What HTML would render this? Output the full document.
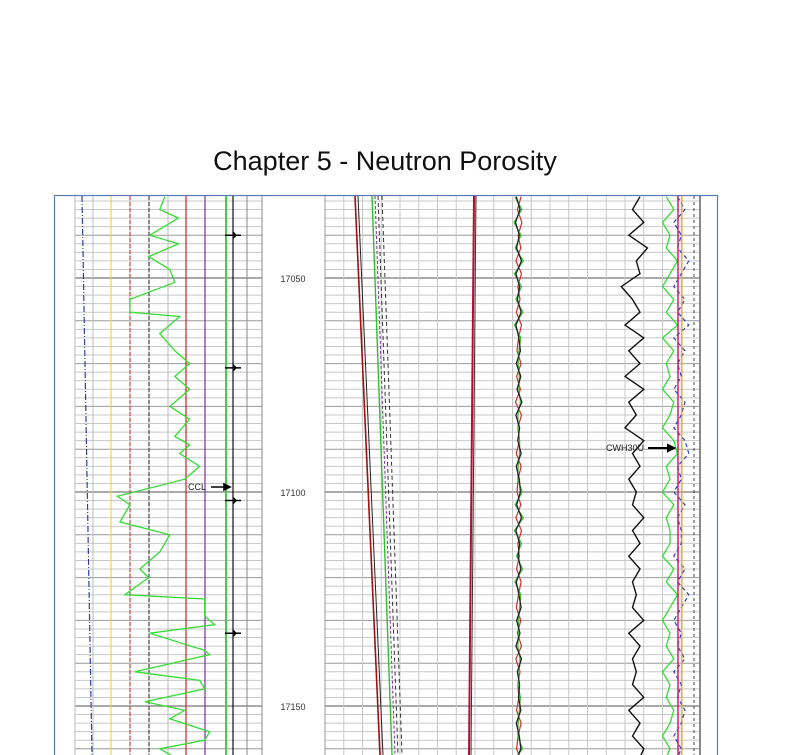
<!DOCTYPE html>
<html><head><meta charset="utf-8">
<style>
html,body{margin:0;padding:0;background:#fff;width:807px;height:755px;overflow:hidden}
#title{position:absolute;left:0;width:770px;top:146px;text-align:center;font-family:"Liberation Sans",sans-serif;font-size:27px;color:#111}
svg{position:absolute;left:0;top:0}
</style></head><body>
<div id="title">Chapter 5 - Neutron Porosity</div>
<svg id="chart" width="807" height="755"></svg>
<script>
const depthTicks=[17050,17100,17150];
const grDepth=[17031,17034,17036,17040,17042,17045,17048,17051,17055,17058,17059,17063,17067,17070,17073,17076,17080,17083,17087,17089,17091,17094,17097,17101,17103,17107,17110,17114,17118,17120,17124,17125,17129,17131,17133,17137,17138,17142,17144,17146,17149,17151,17153,17156,17158,17160,17162];
const grValue=[72,68,83,60,83,59,76,80,44,44,84,68,80,92,80,92,76,92,80,92,84,100,88,34,44,36,76,68,52,59,40,104,104,112,60,104,108,48,100,104,56,88,76,108,104,68,80];
const resDepth=[17031,17034,17037,17040,17043,17046,17049,17052,17055,17058,17061,17064,17067,17070,17073,17076,17079,17082,17085,17088,17091,17094,17097,17100,17103,17106,17109,17112,17115,17118,17121,17124,17127,17130,17133,17136,17139,17142,17145,17148,17151,17154,17157,17160,17162];
const resDeep=[84,82,85,81,86,83,84,79,82,84,80,85,81,84,80,85,81,83,80,85,82,84,81,83,82,85,82,84,81,84,82,83,82,85,81,84,82,83,82,85,81,84,82,85,84];
const resShallow=[91,93,90,92,91,94,92,90,93,91,94,90,93,91,92,90,93,92,90,93,94,91,92,90,93,91,92,92,90,93,91,94,92,90,92,91,93,90,92,91,93,92,90,92,91];
const noiseVal=[51,52,50.8,51.8,51.1,52.4,50.9,51.9,51.3,52.3,50.9,51.7,52.1,51,52.2,51.2,52.5,50.9,51.9,51.4,52.3,51,51.8,52.1,51.1,52.4,50.9,51.9,51.5,52.2,51,51.7,52.3,51.1,52,50.9,52.4,51.3,51.9,51.6,52.2,51,51.8,52.2,51.3];
const ccl=[17040,17071,17102,17133];

const svg=document.getElementById('chart');
const NS='http://www.w3.org/2000/svg';
const y=d=>278+(d-17050)*4.28;
const xL=v=>75+v*1.247;
const xR=v=>325+v*3.75;
function el(t,a,p){const e=document.createElementNS(NS,t);for(const k in a)e.setAttribute(k,a[k]);(p||svg).appendChild(e);return e;}

const frame=el('rect',{x:54.5,y:195.5,width:663,height:570,fill:'none',stroke:'#5b7bb5','stroke-width':1.2});



const grid=el('g',{});


for(let d=17030;d<=17162;d+=2){
  const yy=y(d);if(yy<196)continue;
  const major=d%50===0, mid=d%10===0;
  const c=major?'#777':mid?'#999':'#c8c8c8', w=major?1.3:1;
  el('line',{x1:75,x2:262,y1:yy,y2:yy,stroke:c,'stroke-width':w},grid);
  el('line',{x1:325,x2:700,y1:yy,y2:yy,stroke:c,'stroke-width':w},grid);
}
[75,93,111,130,149,168,186,205,226,247,262].forEach(x=>el('line',{x1:x,x2:x,y1:196,y2:755,stroke:'#bbb'},grid));
el('line',{x1:262,x2:262,y1:196,y2:755,stroke:'#888'},grid);
el('line',{x1:247,x2:247,y1:196,y2:755,stroke:'#888'},grid);
for(let x=325;x<=700;x+=18.75) el('line',{x1:x,x2:x,y1:196,y2:755,stroke:'#c8c8c8'},grid);
el('line',{x1:325,x2:325,y1:196,y2:755,stroke:'#999'},grid);
el('line',{x1:700,x2:700,y1:196,y2:755,stroke:'#888','stroke-width':2},grid);

depthTicks.forEach(d=>{const t=el('text',{x:293,y:y(d)+4,'text-anchor':'middle','font-family':'Liberation Sans, sans-serif','font-size':9,fill:'#333'});t.textContent=d;

});

const fixed=[[82,92,'#3340a0','6,2,1,2'],[111,111,'#e8d840',''],[130,130,'#d04040','4,2'],[149,149,'#444','4,2'],[186,186,'#d02020',''],[205,205,'#8030a0',''],[226,226,'#40d040',''],[233,233,'#111','']];
fixed.forEach(f=>{const l=el('line',{x1:f[0],x2:f[1],y1:196,y2:755,stroke:f[2],'stroke-width':f[2]=='#40d040'?2:1.2,'stroke-dasharray':f[3]});

});
ccl.forEach(d=>{const g=el('path',{d:`M225 ${y(d)}H241M233 ${y(d)-3}L236 ${y(d)}L233 ${y(d)+3}`,stroke:'#000','stroke-width':1.5,fill:'none'});

});

const gr=el('path',{d:grDepth.map((d,i)=>(i?'L':'M')+xL(grValue[i]).toFixed(1)+' '+y(d).toFixed(1)).join(''),fill:'none',stroke:'#33dd33','stroke-width':1.3});



const t1=el('text',{x:188,y:490,'font-family':'Liberation Sans, sans-serif','font-size':9,fill:'#222'});t1.textContent='CCL';


el('path',{d:'M211 487H228M224 484L230 487L224 490Z',stroke:'#000','stroke-width':1.6,fill:'#000'});

const diag=[[355,380,'#a01010',1.6,''],[358,383,'#222',1,''],[372,392,'#30c030',1.4,''],[375,395,'#8030a0',1,'3,2'],[378,398,'#333',1,'4,3'],[382,402,'#333',1,'4,3'],[474,469,'#b01030',2,''],[476,471,'#333',1,'']];
diag.forEach(f=>{const l=el('line',{x1:f[0],x2:f[1],y1:196,y2:755,stroke:f[2],'stroke-width':f[3],'stroke-dasharray':f[4]});

});

function curve(vals,fn,col,w,name,dash){const p=el('path',{d:resDepth.map((d,i)=>(i?'L':'M')+fn(vals[i]).toFixed(1)+' '+y(d).toFixed(1)).join(''),fill:'none',stroke:col,'stroke-width':w,'stroke-dasharray':dash||''});

}
curve(noiseVal.map(v=>103.3-v),xR,'#cc3030',1.2,'noise-curve-red');
curve(noiseVal.map((v,i)=>v+(i%2?0.5:-0.4)),xR,'#30c030',1.2,'noise-curve-green');
curve(noiseVal,xR,'#222',1.3,'noise-curve-black');
curve(resShallow,xR,'#33dd33',1.3,'shallow-resistivity-curve');
curve(resShallow.map(v=>v+3),xR,'#3040c0',1.2,'blue-dashed-curve','4,3');
curve(resDeep,xR,'#111',1.4,'deep-resistivity-curve');
el('line',{x1:678,x2:678,y1:196,y2:755,stroke:'#d02060','stroke-width':1.5});
el('line',{x1:682,x2:682,y1:196,y2:755,stroke:'#e8a020','stroke-width':1});
el('line',{x1:694,x2:694,y1:196,y2:755,stroke:'#444','stroke-dasharray':'3,3'});

const t2=el('text',{x:606,y:451,'font-family':'Liberation Sans, sans-serif','font-size':9,fill:'#222'});t2.textContent='CWH30U';


el('path',{d:'M648 448H672M668 445L674 448L668 451Z',stroke:'#000','stroke-width':2,fill:'#000'});
</script>
</body></html>
